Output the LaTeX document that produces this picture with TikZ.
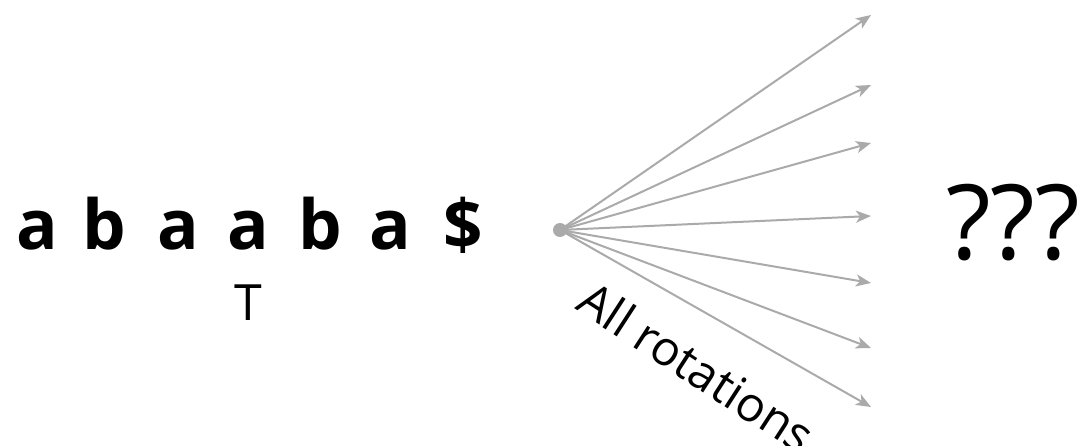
\documentclass[tikz,border=0pt]{standalone}
\usepackage{fontspec}
\setmainfont{Open Sans}
\usetikzlibrary{arrows.meta}
\definecolor{rotgray}{RGB}{170,170,170}

\begin{document}
\begin{tikzpicture}[
    x=1pt, y=-1pt,
    every node/.style={inner sep=0pt},
    letter/.style={anchor=base, font=\fontsize{69}{69}\selectfont\bfseries},
    rotarrow/.style={-{Stealth[length=15pt, width=12pt, inset=4pt]}, draw=rotgray, line width=2pt}
]
\useasboundingbox (0,0) rectangle (1079,446);

% Text T
\node[letter] (c1) at (37,250)  {a};
\node[letter] (c2) at (104,250) {b};
\node[letter] (c3) at (178,250) {a};
\node[letter] (c4) at (248,250) {a};
\node[letter] (c5) at (320,250) {b};
\node[letter] (c6) at (390,250) {a};
\node[letter] (c7) at (463,250) {\$};
\node[anchor=base, font=\fontsize{50}{50}\selectfont] (tname) at (248,320) {T};

% Fan of rotations
\node[circle, fill=rotgray, minimum size=14pt] (src) at (560,230) {};
\coordinate (r1) at (871,15);
\coordinate (r2) at (871,85);
\coordinate (r3) at (871,143);
\coordinate (r4) at (871,216);
\coordinate (r5) at (871,283);
\coordinate (r6) at (871,348);
\coordinate (r7) at (871,407);
\foreach \i in {1,...,7}
  \draw[rotarrow] (src.center) -- (r\i);

\node[rotate=-33, font=\fontsize{48}{48}\selectfont] (rotlabel) at (697,367) {All rotations};

% Unknown result
\node[anchor=base, font=\fontsize{104}{104}\selectfont] (unknown) at (1013,260) {???};

\end{tikzpicture}
\end{document}
